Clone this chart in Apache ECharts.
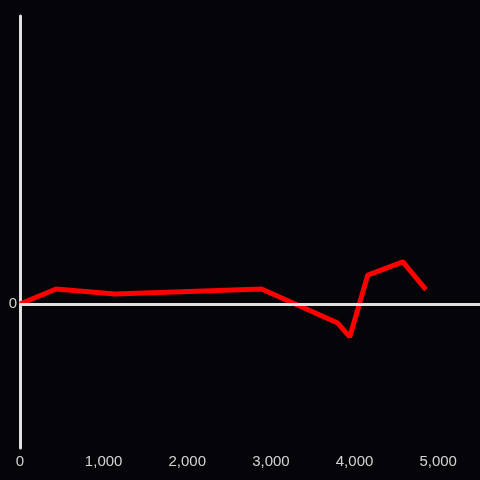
<!DOCTYPE html>
<html>
<head>
<meta charset="utf-8">
<script src="https://cdn.jsdelivr.net/npm/echarts@6/dist/echarts.min.js"></script>
<style>
  html, body { margin: 0; padding: 0; background: #050408; }
  #chart { width: 480px; height: 480px; }
</style>
</head>
<body>
<div id="chart"></div>
<script>
// x positions and values
const xValues = [0, 431, 1138, 2888, 3799, 3943, 4158, 4578, 4853];
const yValues = [0, 10.4, 6.9, 10.4, -13.2, -22.9, 20.1, 29.2, 10];
const xTicks = [0, 1000, 2000, 3000, 4000, 5000];

const points = xValues.map((x, i) => [x, yValues[i]]);

const myChart = echarts.init(document.getElementById("chart"));
myChart.setOption({
  backgroundColor: "#050408",
  animation: false,
  grid: { left: 20, right: 0, top: 16, bottom: 32 },
  xAxis: {
    type: "value",
    min: 0,
    max: 5500,
    interval: 1000,
    axisLine: { show: false },
    axisTick: { show: false },
    splitLine: { show: false },
    axisLabel: {
      color: "#d4d4d4",
      fontSize: 15,
      fontFamily: "Liberation Sans",
      margin: 6,
      showMaxLabel: false,
      formatter: (v) => (xTicks.includes(v) ? v.toLocaleString("en-US") : ""),
    },
  },
  yAxis: {
    type: "value",
    min: -100,
    max: 200,
    interval: 100,
    axisLine: { show: true, onZero: false, lineStyle: { color: "#e0e0e0", width: 3 } },
    axisTick: { show: false },
    splitLine: { show: false },
    axisLabel: {
      color: "#d4d4d4",
      fontSize: 15,
      fontFamily: "Liberation Sans",
      margin: 3,
      formatter: (v) => (v === 0 ? "0" : ""),
    },
  },
  series: [
    {
      type: "line",
      data: points,
      symbol: "none",
      lineStyle: { color: "#ff0000", width: 5 },
      markLine: {
        silent: true,
        symbol: "none",
        label: { show: false },
        lineStyle: { color: "#e0e0e0", width: 3, type: "solid" },
        data: [{ yAxis: 0 }],
      },
      z: 3,
    },
  ],
});
</script>
</body>
</html>
